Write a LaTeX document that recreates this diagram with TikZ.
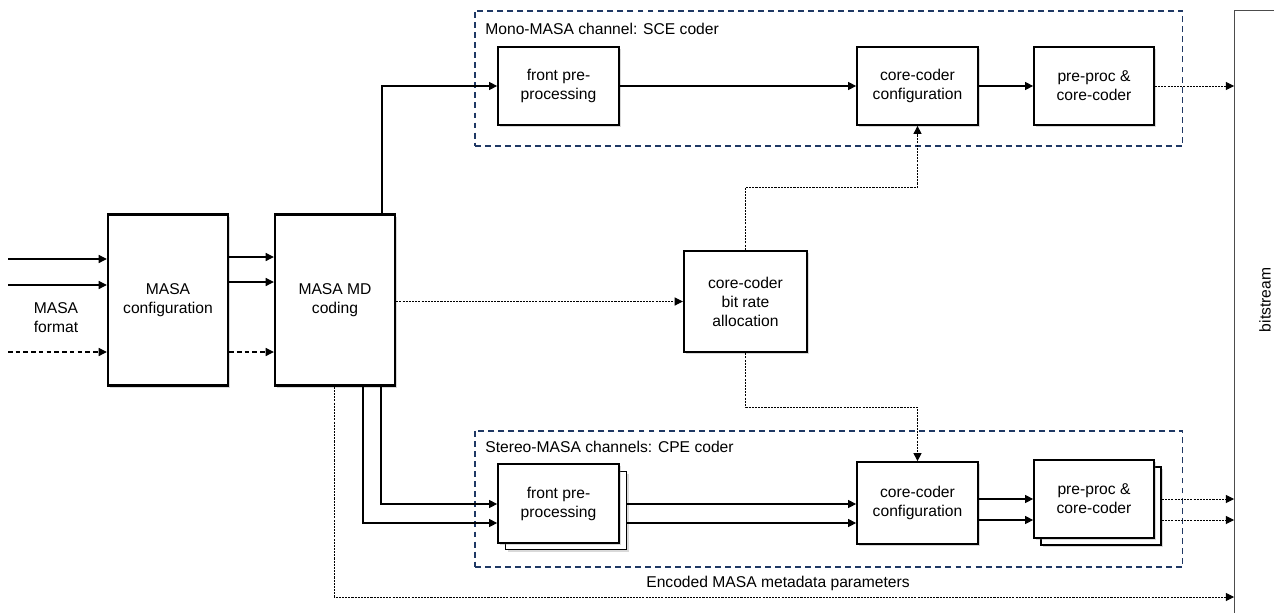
\documentclass[tikz,border=0pt]{standalone}
\usepackage{fontspec}
\setmainfont{Liberation Sans}
\usepackage{tikz}
\usetikzlibrary{arrows.meta, positioning, shadows}

\definecolor{grpblue}{RGB}{31,56,100}

\tikzset{
    blk/.style={draw, line width=1pt, fill=white, align=center,
        minimum width=2.42cm, minimum height=1.56cm, inner sep=1pt,
        drop shadow={opacity=0.3, shadow xshift=1.3pt, shadow yshift=-1.3pt}},
    bigblk/.style={blk, line width=1.4pt},
    grp/.style={draw=grpblue, line width=0.9pt, dash pattern=on 3.4pt off 2.3pt,
        anchor=north west, inner sep=0pt},
    arr/.style={-{Triangle[length=4.6pt, width=4.6pt]}, line width=0.6pt},
    dotarr/.style={arr, dash pattern=on 1.2pt off 0.6pt, line width=0.5pt},
    dashedarr/.style={arr, dash pattern=on 2.6pt off 1.8pt}
}

\begin{document}
\begin{tikzpicture}[x=0.02cm, y=-0.02cm, font=\fontsize{8.9}{10.8}\selectfont]

    \useasboundingbox (0,0) rectangle (1274,612);

    % GROUPS (dashed blue frames)
    \node[grp, minimum width=14.16cm, minimum height=2.7cm] (grpA) at (474,10) {};
    \node[grp, minimum width=14.16cm, minimum height=2.72cm] (grpB) at (474,430) {};
    \node[anchor=west, inner sep=0pt] (grpAlbl) at (485,29) {Mono-MASA channel: SCE coder};
    \node[anchor=west, inner sep=0pt] (grpBlbl) at (485,447) {Stereo-MASA channels: CPE coder};

    % BITSTREAM
    \node[draw=black!70, line width=0.6pt, anchor=north west,
        minimum width=1.24cm, minimum height=12.4cm] (bits) at (1234,10) {};
    \node[rotate=90] (bitslbl) at (1265,300) {bitstream};

    % MAIN BLOCKS
    \node[bigblk, minimum width=2.4cm, minimum height=3.42cm] (cfg) at (168,300)
        {MASA\\configuration};
    \node[bigblk, minimum width=2.4cm, minimum height=3.42cm] (md) at (335,300)
        {MASA MD\\coding};
    \node[bigblk, minimum width=2.46cm, minimum height=2.02cm] (bra) at (745.5,301.5)
        {core-coder\\bit rate\\allocation};
    \node[align=center] (fmt) at (56,318) {MASA\\format};

    % MONO BRANCH
    \node[blk] (fpA) at (558.5,86) {front pre-\\processing};
    \node[blk] (ccA) at (917.5,86) {core-coder\\configuration};
    \node[blk, minimum width=2.4cm] (ppA) at (1094,86) {pre-proc \&\\core-coder};

    % STEREO BRANCH (stacked copies behind)
    \node[blk] (fpBb) at (566,510.5) {};
    \node[blk, minimum height=1.58cm] (fpB) at (558.5,503.5) {front pre-\\processing};
    \node[blk, minimum height=1.64cm] (ccB) at (917.5,503) {core-coder\\configuration};
    \node[blk, minimum width=2.4cm] (ppBb) at (1101,506) {};
    \node[blk, minimum width=2.4cm] (ppB) at (1094,499) {pre-proc \&\\core-coder};

    % INPUTS
    \coordinate (in1) at (8,259);
    \coordinate (in2) at (8,285);
    \coordinate (in3) at (8,352);
    \draw[arr] (in1) -- (in1 -| cfg.west);
    \draw[arr] (in2) -- (in2 -| cfg.west);
    \draw[dashedarr] (in3) -- (in3 -| cfg.west);

    % CONFIGURATION TO MD CODING
    \foreach \y in {257,282}{
        \draw[arr] (cfg.east |- 0,\y) -- (md.west |- 0,\y);
    }
    \draw[dashedarr] (cfg.east |- 0,352) -- (md.west |- 0,352);

    % MONO PATH
    \draw[arr] (md.north -| 382,0) |- (fpA.west);
    \draw[arr] (fpA) -- (ccA);
    \draw[arr] (ccA) -- (ppA);
    \draw[dotarr] (ppA.east) -- (ppA.east -| bits.west);

    % BIT RATE ALLOCATION
    \draw[dotarr] (md.east |- bra.west) -- (bra.west);
    \draw[dotarr] (bra.north) -- (bra.north |- 0,187) -| (ccA.south);
    \draw[dotarr] (bra.south) -- (bra.south |- 0,407) -| (ccB.north);

    % STEREO PATH
    \draw[arr] (md.south -| 381,0) |- (fpB.west |- 0,504);
    \draw[arr] (md.south -| 363,0) |- (fpB.west |- 0,523);
    \foreach \y in {504,523}{
        \draw[arr] (fpBb.east |- 0,\y) -- (ccB.west |- 0,\y);
    }
    \foreach \y in {499,520}{
        \draw[arr] (ccB.east |- 0,\y) -- (ppB.west |- 0,\y);
        \draw[dotarr] (ppBb.east |- 0,\y) -- (bits.west |- 0,\y);
    }

    % METADATA
    \draw[dotarr] (md.south -| 334,0) |- (bits.west |- 0,597);
    \node (mdlbl) at (778,583) {Encoded MASA metadata parameters};

\end{tikzpicture}
\end{document}
